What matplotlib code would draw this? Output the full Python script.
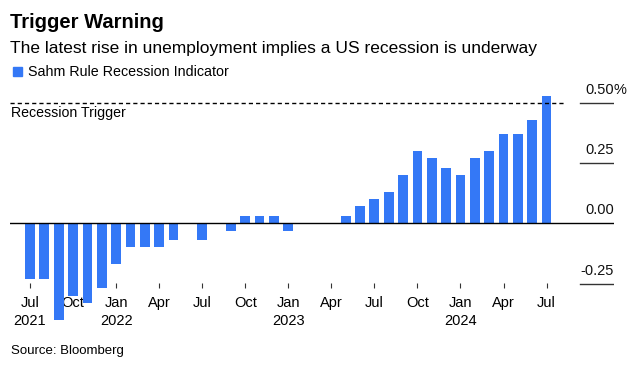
import matplotlib
matplotlib.use("Agg")
import matplotlib.pyplot as plt
from matplotlib.patches import Rectangle
import numpy as np

plt.rcParams["font.family"] = ["Liberation Sans", "DejaVu Sans"]

# Monthly Sahm Rule readings, Jul 2021 .. Jul 2024 (percentage points)
months = [
    "2021-07", "2021-08", "2021-09", "2021-10", "2021-11", "2021-12",
    "2022-01", "2022-02", "2022-03", "2022-04", "2022-05", "2022-06",
    "2022-07", "2022-08", "2022-09", "2022-10", "2022-11", "2022-12",
    "2023-01", "2023-02", "2023-03", "2023-04", "2023-05", "2023-06",
    "2023-07", "2023-08", "2023-09", "2023-10", "2023-11", "2023-12",
    "2024-01", "2024-02", "2024-03", "2024-04", "2024-05", "2024-06",
    "2024-07",
]
sahm = [
    -0.23, -0.23, -0.40, -0.30, -0.33, -0.27,
    -0.17, -0.10, -0.10, -0.10, -0.07, 0.00,
    -0.07, 0.00, -0.03, 0.03, 0.03, 0.03,
    -0.03, 0.00, 0.00, 0.00, 0.03, 0.07,
    0.10, 0.13, 0.20, 0.30, 0.27, 0.23,
    0.20, 0.27, 0.30, 0.37, 0.37, 0.43,
    0.53,
]
trigger = 0.50
tick_labels = ["Jul\n2021", "Oct", "Jan\n2022", "Apr", "Jul", "Oct",
               "Jan\n2023", "Apr", "Jul", "Oct", "Jan\n2024", "Apr", "Jul"]
y_levels = [0.50, 0.25, 0.00, -0.25]
y_labels = ["0.50", "0.25", "0.00", "-0.25"]

BLUE = "#3478f6"
W, H = 640, 367

fig = plt.figure(figsize=(6.4, 3.67), dpi=100)
ax = fig.add_axes([10 / W, (H - 288) / H, 604 / W, 208 / H])

x = np.arange(len(months))
ax.bar(x, sahm, width=0.68, color=BLUE, zorder=3, clip_on=False)

ax.set_xlim(-1.394, 40.70)
ax.set_ylim(-0.2685, 0.5946)

# zero line across the plot, short stubs under the other labels
ax.axhline(0, color="black", lw=1.0, zorder=4)
for v in y_levels:
    if v != 0:
        ax.axhline(v, xmin=0.9437, xmax=1.0, color="#333333", lw=1.0, zorder=4)
for v, lab in zip(y_levels, y_labels):
    ax.annotate(lab, xy=(1.0, v), xycoords=("axes fraction", "data"),
                xytext=(0, 6.5), textcoords="offset points",
                ha="right", va="baseline", fontsize=10.5, color="#111111")
ax.annotate("%", xy=(1.0, y_levels[0]), xycoords=("axes fraction", "data"),
            xytext=(0, 6.5), textcoords="offset points",
            ha="left", va="baseline", fontsize=10.5, color="#111111",
            annotation_clip=False)

# recession trigger
ax.axhline(trigger, xmin=0.0, xmax=0.9205, color="black", lw=1.0,
           dashes=(3.0, 2.2), zorder=5)

ax.set_xticks(x[::3])
ax.set_xticklabels(tick_labels, fontsize=10.5, linespacing=1.3)
ax.tick_params(axis="x", direction="in", length=3.6, width=0.8,
               color="#333333", pad=6)
ax.set_yticks([])
for s in ax.spines.values():
    s.set_visible(False)

fig.text(10.5 / W, 1 - 27.7 / H, "Trigger Warning", fontsize=14.5,
         fontweight="bold", va="baseline")
fig.text(10.5 / W, 1 - 53.3 / H,
         "The latest rise in unemployment implies a US recession is underway",
         fontsize=12.5, va="baseline")
fig.add_artist(Rectangle((12.7 / W, 1 - 76 / H), 9.3 / W, 9.3 / H,
                         transform=fig.transFigure, color=BLUE))
fig.text(28 / W, 1 - 76 / H, "Sahm Rule Recession Indicator",
         fontsize=10.3, va="baseline")
fig.text(11 / W, 1 - 117.5 / H, "Recession Trigger", fontsize=10.2,
         va="baseline")
fig.text(11 / W, 1 - 354 / H, "Source: Bloomberg", fontsize=9.5,
         va="baseline")

fig.savefig("out.png", dpi=100)
